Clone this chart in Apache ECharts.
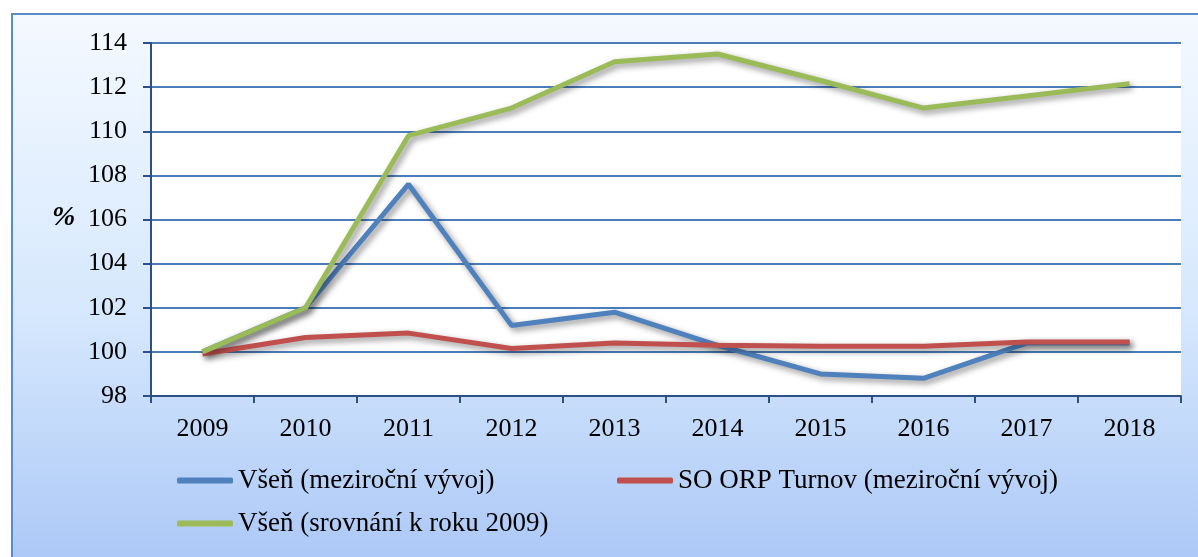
<!DOCTYPE html>
<html>
<head>
<meta charset="utf-8">
<script src="https://cdn.jsdelivr.net/npm/echarts@6/dist/echarts.min.js"></script>
<style>
html, body { margin: 0; padding: 0; background: #fff; }
#chart { width: 1198px; height: 557px; }
</style>
</head>
<body>
<div id="chart"></div>
<script>
// roky a hodnoty
var years = ['2009', '2010', '2011', '2012', '2013', '2014', '2015', '2016', '2017', '2018'];
var vsenMezi = [100, 102, 107.6, 101.2, 101.8, 100.3, 99.0, 98.8, 100.4, 100.4];
var turnovMezi = [99.9, 100.65, 100.85, 100.15, 100.4, 100.3, 100.25, 100.25, 100.45, 100.45];
var vsenSrov = [100, 102, 109.8, 111.05, 113.15, 113.5, 112.3, 111.05, 111.6, 112.15];
var names = ['Všeň (meziroční vývoj)', 'SO ORP Turnov (meziroční vývoj)', 'Všeň (srovnání k roku 2009)'];
var colors = ['#4f81bd', '#c0504d', '#9bbb59'];

var font = 'Liberation Serif';
var stin = {
    shadowColor: 'rgba(0,0,0,0.45)',
    shadowBlur: 6,
    shadowOffsetX: 3,
    shadowOffsetY: 3
};

function legenda(name, left, top) {
    return {
        data: [name],
        left: left,
        top: top,
        padding: 0,
        icon: 'roundRect',
        itemWidth: 56,
        itemHeight: 6,
        textStyle: { fontFamily: font, fontSize: 27, color: '#000' }
    };
}

var myChart = echarts.init(document.getElementById('chart'));
myChart.setOption({
    animation: false,
    backgroundColor: '#fff',
    color: colors,
    graphic: [{
        type: 'rect',
        z: -10,
        shape: { x: 12, y: 14, width: 1200, height: 600 },
        style: {
            fill: new echarts.graphic.LinearGradient(0, 0, 0, 1, [
                { offset: 0, color: '#f4f9ff' },
                { offset: 0.5, color: '#d6e8fd' },
                { offset: 1, color: '#a3c1f5' }
            ]),
            stroke: '#5b8bc9',
            lineWidth: 2
        }
    }, {
        type: 'text',
        left: 52,
        top: 204,
        style: {
            text: '%',
            font: 'italic bold 28px "Liberation Serif"',
            fill: '#000'
        }
    }],
    grid: {
        left: 151,
        right: 17,
        top: 43,
        bottom: 161,
        show: true,
        backgroundColor: '#fff',
        borderWidth: 0
    },
    legend: [
        legenda(names[0], 177, 467),
        legenda(names[1], 617, 467),
        legenda(names[2], 177, 510)
    ],
    xAxis: {
        type: 'category',
        data: years,
        boundaryGap: true,
        axisLine: { lineStyle: { color: '#2c4f86', width: 2 } },
        axisTick: { show: true, length: 7, lineStyle: { color: '#2c4f86', width: 2 } },
        axisLabel: { fontFamily: font, fontSize: 26, color: '#000', margin: 20 }
    },
    yAxis: {
        type: 'value',
        min: 98,
        max: 114,
        interval: 2,
        axisLine: { show: true, lineStyle: { color: '#2c4f86', width: 2 } },
        axisTick: { show: true, length: 8, lineStyle: { color: '#2c4f86', width: 2 } },
        splitLine: { lineStyle: { color: '#4a7ebb', width: 2 } },
        axisLabel: { fontFamily: font, fontSize: 26, color: '#000', margin: 24 }
    },
    series: [{
        name: names[0],
        type: 'line',
        data: vsenMezi,
        showSymbol: false,
        lineStyle: Object.assign({ width: 5 }, stin)
    }, {
        name: names[1],
        type: 'line',
        data: turnovMezi,
        showSymbol: false,
        lineStyle: Object.assign({ width: 5 }, stin)
    }, {
        name: names[2],
        type: 'line',
        data: vsenSrov,
        showSymbol: false,
        lineStyle: Object.assign({ width: 5 }, stin)
    }]
});
</script>
</body>
</html>
